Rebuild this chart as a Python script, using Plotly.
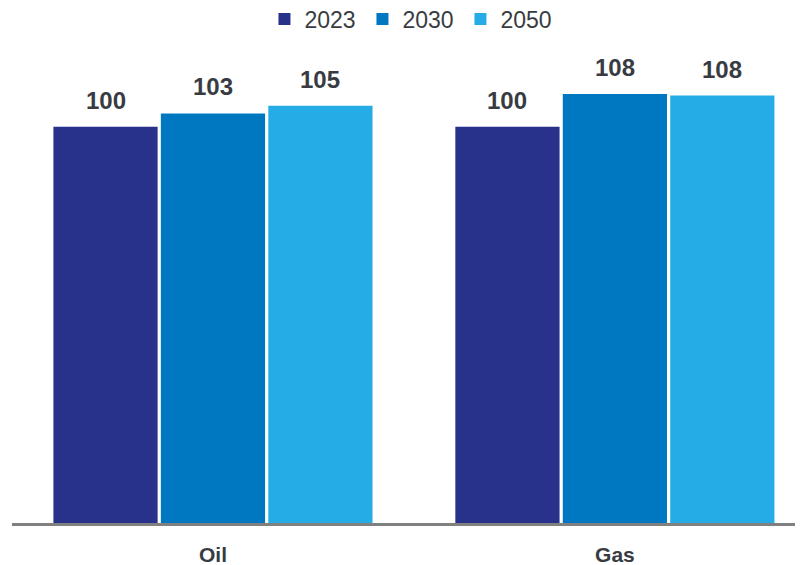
import plotly.graph_objects as go

categories = ["Oil", "Gas"]
years = ["2023", "2030", "2050"]
values_2023 = [100.0, 100.0]
values_2030 = [103.4, 108.3]
values_2050 = [105.3, 107.9]
labels_2023 = ["100", "100"]
labels_2030 = ["103", "108"]
labels_2050 = ["105", "108"]

series = [values_2023, values_2030, values_2050]
label_sets = [labels_2023, labels_2030, labels_2050]
colors = ["#28328a", "#0078c1", "#25ace6"]

text_color = "#383c42"
font_family = "Liberation Sans, Arial, sans-serif"

bargap = 0.198
bargroupgap = 0.03

fig = go.Figure()
for name, vals, col in zip(years, series, colors):
    fig.add_trace(go.Bar(x=categories, y=vals, name=name, marker=dict(color=col, line=dict(width=0))))

slot = (1 - bargap) / len(years)
annotations = []
for j, (vals, labs) in enumerate(zip(series, label_sets)):
    for i, (v, lab) in enumerate(zip(vals, labs)):
        annotations.append(dict(
            x=i + (j - 1) * slot, y=v, xref="x", yref="y",
            text="<b>" + lab + "</b>", showarrow=False,
            yanchor="bottom", yshift=11,
            font=dict(size=24, color=text_color, family=font_family),
        ))

fig.update_layout(
    width=795, height=557,
    margin=dict(l=4, r=0, t=42, b=42, autoexpand=False),
    paper_bgcolor="white", plot_bgcolor="white",
    barmode="group", bargap=bargap, bargroupgap=bargroupgap,
    font=dict(family=font_family, color=text_color),
    showlegend=True,
    legend=dict(
        orientation="h", xref="paper", x=0.505, xanchor="center",
        yref="container", y=0.98, yanchor="middle",
        font=dict(size=23, color=text_color, family=font_family),
        traceorder="normal", entrywidth=53, entrywidthmode="pixels",
    ),
    annotations=annotations,
)
fig.update_xaxes(
    range=[-0.5, 1.468], showline=True, linecolor="#808080", linewidth=2.5,
    ticks="", showgrid=False, zeroline=False,
    tickfont=dict(size=21, color=text_color, family=font_family),
    tickvals=categories, ticktext=["<b>" + c + "</b>" for c in categories],
    ticklabelstandoff=11,
)
fig.update_yaxes(
    range=[0, 119.4], visible=False, showgrid=False, zeroline=False,
)

fig.write_html("out.html")
